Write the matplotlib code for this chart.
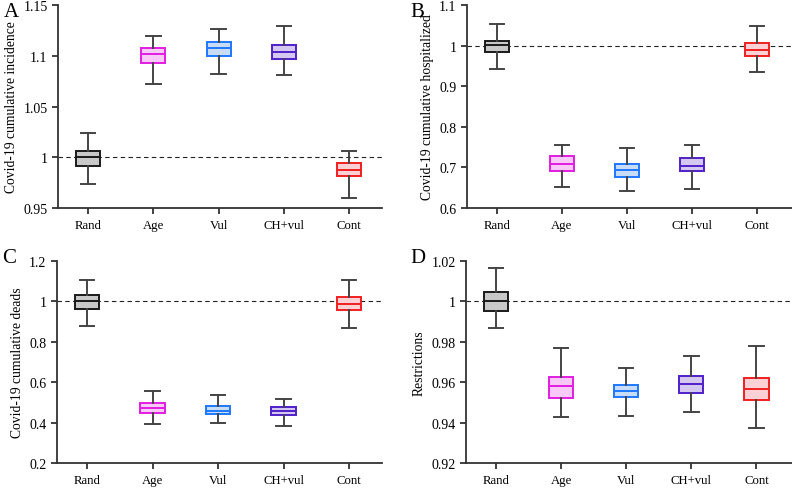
import numpy as np
import matplotlib.pyplot as plt

plt.rcParams['font.family'] = ['Liberation Serif', 'DejaVu Serif']

strategies = ['Rand', 'Age', 'Vul', 'CH+vul', 'Cont']
edge_colors = ['#1a1a1a', '#e01ee0', '#1e78ff', '#5020c8', '#f02020']
fill_colors = ['#c8c8c8', '#f8c8f8', '#c8dcf8', '#d4c8f0', '#fcd0d4']

# box stats per strategy: whislo, q1, med, q3, whishi
incidence = [
    [0.974, 0.9917, 1.0003, 1.0065, 1.0242],
    [1.0718, 1.0929, 1.1017, 1.108, 1.1198],
    [1.0817, 1.1001, 1.108, 1.1139, 1.1264],
    [1.0814, 1.0971, 1.1034, 1.1103, 1.129],
    [0.9602, 0.9812, 0.9878, 0.9947, 1.0058],
]
hospitalized = [
    [0.9418, 0.9836, 1.0008, 1.0107, 1.053],
    [0.6516, 0.6918, 0.7074, 0.727, 0.7557],
    [0.6426, 0.6762, 0.6934, 0.7082, 0.7467],
    [0.6459, 0.691, 0.7033, 0.7221, 0.754],
    [0.9352, 0.9754, 0.99, 1.0057, 1.0492],
]
deads = [
    [0.8787, 0.9607, 1.0, 1.0328, 1.1066],
    [0.3918, 0.4475, 0.4721, 0.4967, 0.5574],
    [0.3967, 0.441, 0.459, 0.4803, 0.5344],
    [0.3836, 0.4377, 0.4574, 0.477, 0.5148],
    [0.8689, 0.9557, 0.9869, 1.0197, 1.1066],
]
restrictions = [
    [0.987, 0.9952, 1.0, 1.0046, 1.0167],
    [0.9428, 0.9521, 0.958, 0.9628, 0.977],
    [0.9431, 0.9526, 0.9556, 0.9584, 0.9672],
    [0.9451, 0.9549, 0.959, 0.9633, 0.9731],
    [0.9375, 0.9513, 0.9566, 0.9621, 0.9777],
]

panels = [
    ('A', incidence, 'Covid-19 cumulative incidence', (0.95, 1.15), [0.95, 1, 1.05, 1.1, 1.15], ['0.95', '1', '1.05', '1.1', '1.15']),
    ('B', hospitalized, 'Covid-19 cumulative hospitalized', (0.6, 1.1), [0.6, 0.7, 0.8, 0.9, 1.0, 1.1], ['0.6', '0.7', '0.8', '0.9', '1', '1.1']),
    ('C', deads, 'Covid-19 cumulative deads', (0.2, 1.2), [0.2, 0.4, 0.6, 0.8, 1.0, 1.2], ['0.2', '0.4', '0.6', '0.8', '1', '1.2']),
    ('D', restrictions, 'Restrictions', (0.92, 1.02), [0.92, 0.94, 0.96, 0.98, 1.0, 1.02], ['0.92', '0.94', '0.96', '0.98', '1', '1.02']),
]

# axes rectangles [left, bottom, width, height]
rects = [
    [0.0732, 0.5726, 0.409, 0.415],
    [0.5896, 0.5726, 0.411, 0.415],
    [0.0720, 0.0511, 0.410, 0.413],
    [0.5884, 0.0511, 0.412, 0.413],
]
letter_pos = [(0.005, 0.975), (0.518, 0.975), (0.003, 0.472), (0.518, 0.472)]

fig = plt.figure(figsize=(7.92, 4.89), dpi=100)

for (letter, data, ylabel, ylim, yticks, yticklabels), rect, lp in zip(panels, rects, letter_pos):
    ax = fig.add_axes(rect)
    stats = [dict(whislo=d[0], q1=d[1], med=d[2], q3=d[3], whishi=d[4], fliers=[]) for d in data]
    ax.axhline(1.0, color='#222222', lw=0.8, ls=(0, (4, 3)), zorder=1)
    bp = ax.bxp(stats, positions=range(len(strategies)), widths=0.37, capwidths=0.22,
                patch_artist=True, showfliers=False, zorder=2)
    for i, box in enumerate(bp['boxes']):
        box.set_facecolor(fill_colors[i])
        box.set_edgecolor(edge_colors[i])
        box.set_linewidth(1.4)
        bp['medians'][i].set_color(edge_colors[i])
        bp['medians'][i].set_linewidth(1.4)
        for w in bp['whiskers'][2 * i:2 * i + 2] + bp['caps'][2 * i:2 * i + 2]:
            w.set_color('#444444')
            w.set_linewidth(1.4)
    ax.set_xlim(-0.46, 4.5 if letter in 'AC' else 4.55)
    ax.set_ylim(*ylim)
    ax.set_yticks(yticks)
    ax.set_yticklabels(yticklabels)
    ax.set_xticks(range(len(strategies)))
    ax.set_xticklabels(strategies)
    ax.set_ylabel(ylabel, fontsize=9.8, labelpad=4)
    for s in ['top', 'right']:
        ax.spines[s].set_visible(False)
    for s in ['left', 'bottom']:
        ax.spines[s].set_linewidth(1.3)
        ax.spines[s].set_color('#333333')
    ax.tick_params(axis='both', width=1.3, length=4, color='#333333', direction='out')
    ax.tick_params(axis='y', labelsize=10)
    ax.tick_params(axis='x', labelsize=9.2, pad=4)
    fig.text(lp[0], lp[1], letter, fontsize=15, va='center', ha='left')

fig.savefig('out.png', dpi=100)
